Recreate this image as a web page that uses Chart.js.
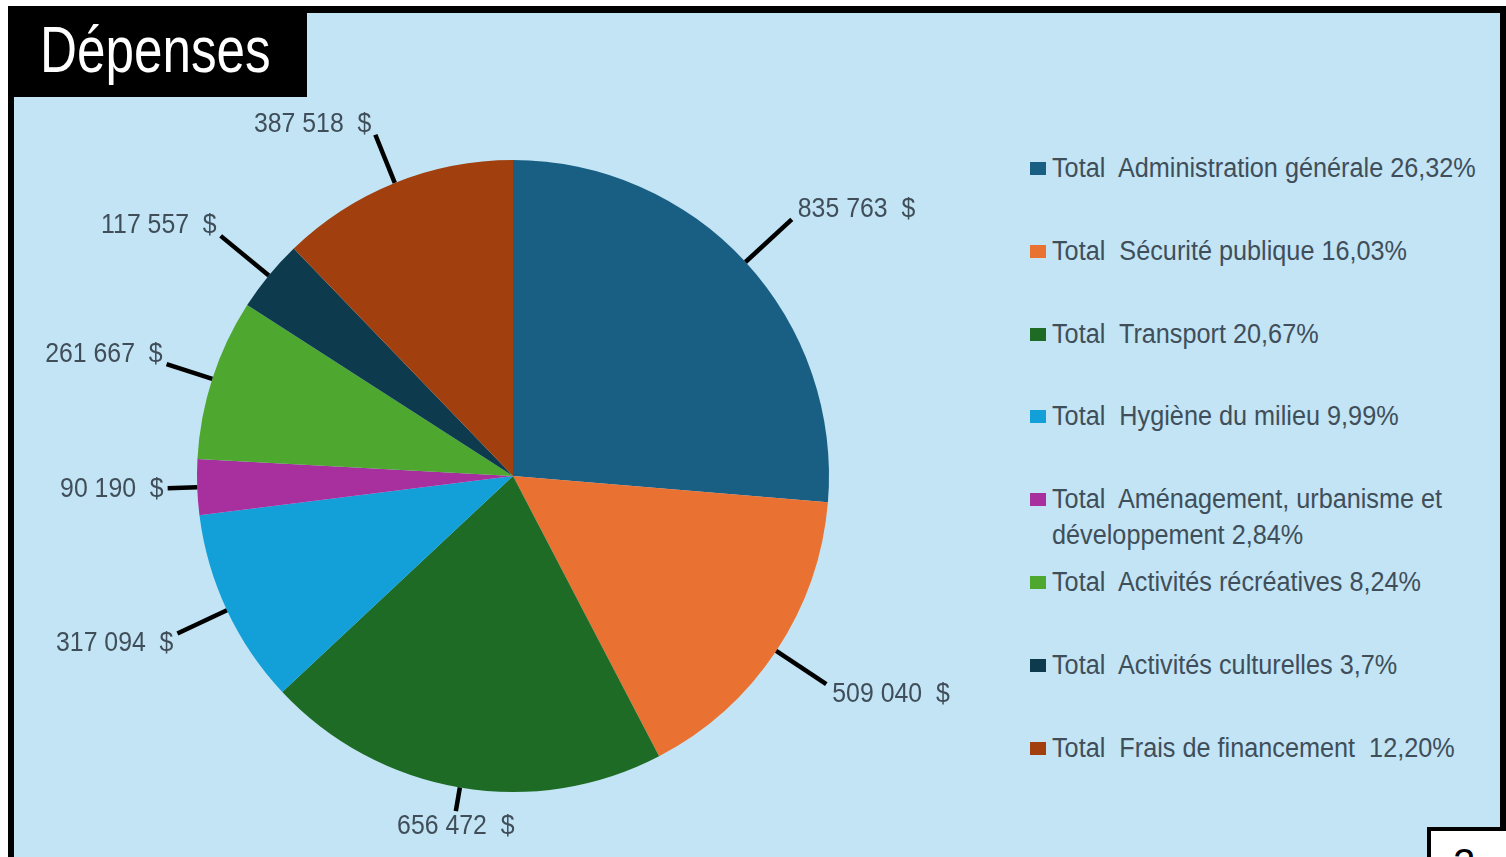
<!DOCTYPE html>
<html lang="fr">
<head>
<meta charset="UTF-8">
<title>Dépenses</title>
<script src="https://cdn.jsdelivr.net/npm/chart.js"></script>
<style>
    body { margin: 0; width: 1506px; height: 857px; overflow: hidden; position: relative; background: #fff; font-family: "Liberation Sans", Arial, sans-serif; }
    .cadre { position: absolute; left: 8px; top: 6px; width: 1498px; height: 900px; box-sizing: border-box; border: 6px solid #000; border-top-width: 7px; background: #c2e4f4; }
    .titre { position: absolute; left: 8px; top: 6px; width: 299px; height: 91px; background: #000; z-index: 2; }
    .titre span { position: absolute; left: 32px; top: 12px; font-size: 64px; line-height: 64px; color: #fff; white-space: nowrap; transform: scaleX(0.8); transform-origin: left top; }
    .graphique { position: absolute; left: 0; top: 0; width: 1020px; height: 857px; z-index: 1; }
    .legende { position: absolute; left: 1030px; top: 150px; width: 470px; z-index: 1; }
    .item { position: relative; height: 82.8px; }
    .carre { position: absolute; left: 0; top: 12px; width: 16px; height: 13px; }
    .texte { position: absolute; left: 22px; top: 0; width: 470px; font-size: 27px; line-height: 36px; color: #404e5a; white-space: pre-wrap; transform: scaleX(0.935); transform-origin: left top; }
    .page { position: absolute; left: 1427px; top: 827px; width: 90px; height: 60px; box-sizing: border-box; border: 4px solid #000; background: #fff; z-index: 3; }
    .page span { position: absolute; left: 22px; top: 12px; font-size: 40px; line-height: 40px; color: #000; }
</style>
</head>
<body>
    <div class="cadre"></div>
    <div class="titre"><span>Dépenses</span></div>
    <div class="graphique"><canvas id="chartDepenses"></canvas></div>
    <div class="legende" id="legende"></div>
    <div class="page"><span>2</span></div>

    <script>
        // Données
        var categories = ['Administration générale', 'Sécurité publique', 'Transport', 'Hygiène du milieu',
            'Aménagement, urbanisme et développement', 'Activités récréatives', 'Activités culturelles', 'Frais de financement '];
        var montants = [835763, 509040, 656472, 317094, 90190, 261667, 117557, 387518];
        var pourcentages = ['26,32%', '16,03%', '20,67%', '9,99%', '2,84%', '8,24%', '3,7%', '12,20%'];
        var couleurs = ['#195e83', '#e97132', '#1d6b24', '#139fd8', '#a8309e', '#4ea72e', '#0e3a4e', '#a13f0e'];

        function formatMontant(n) {
            return n.toString().replace(/\B(?=(\d{3})+(?!\d))/g, ' ') + '  $';
        }

        // Légende à droite
        var legende = document.getElementById('legende');
        categories.forEach(function(nom, i) {
            var item = document.createElement('div');
            item.className = 'item';
            item.innerHTML = '<div class="carre" style="background:' + couleurs[i] + '"></div>' +
                '<div class="texte">Total  ' + nom + ' ' + pourcentages[i] + '</div>';
            legende.appendChild(item);
        });

        // Étiquettes avec lignes de rappel
        var etiquettes = {
            id: 'etiquettes',
            afterDatasetsDraw: function(chart) {
                var ctx = chart.ctx;
                var meta = chart.getDatasetMeta(0);
                ctx.save();
                meta.data.forEach(function(arc, i) {
                    var p = arc.getProps(['x', 'y', 'startAngle', 'endAngle', 'outerRadius'], true);
                    var mid = (p.startAngle + p.endAngle) / 2;
                    var cos = Math.cos(mid), sin = Math.sin(mid);
                    var enBas = sin > 0.9;
                    // lignes plus longues en diagonale, plus courtes sur les axes
                    var longueur = enBas ? 24 : 27 + 36 * Math.abs(Math.sin(2 * mid));
                    var x0 = p.x + cos * p.outerRadius, y0 = p.y + sin * p.outerRadius;
                    var x1 = p.x + cos * (p.outerRadius + longueur), y1 = p.y + sin * (p.outerRadius + longueur);
                    ctx.strokeStyle = '#000';
                    ctx.lineWidth = 4.5;
                    ctx.beginPath();
                    ctx.moveTo(x0, y0);
                    ctx.lineTo(x1, y1);
                    ctx.stroke();

                    var tx, ty, align;
                    if (enBas) { align = 'center'; tx = x1; ty = y1 + 15; }
                    else {
                        ty = y1 + 10 * Math.sign(sin) * Math.min(1, Math.abs(sin) * 3);
                        if (cos >= 0) { align = 'left'; tx = x1 + 6; }
                        else { align = 'right'; tx = x1 - 4; }
                    }
                    ctx.save();
                    ctx.translate(tx, ty);
                    ctx.scale(0.92, 1);
                    ctx.font = '27px "Liberation Sans", Arial, sans-serif';
                    ctx.fillStyle = '#404e5a';
                    ctx.textAlign = align;
                    ctx.textBaseline = 'middle';
                    ctx.fillText(formatMontant(montants[i]), 0, 0);
                    ctx.restore();
                });
                ctx.restore();
            }
        };

        var ctxDep = document.getElementById('chartDepenses').getContext('2d');
        var chartDepenses = new Chart(ctxDep, {
            type: 'pie',
            data: {
                labels: categories,
                datasets: [{
                    data: montants,
                    backgroundColor: couleurs,
                    borderWidth: 0
                }]
            },
            options: {
                responsive: true,
                maintainAspectRatio: false,
                animation: false,
                layout: { padding: { left: 197, right: 191, top: 160, bottom: 65 } },
                plugins: {
                    legend: { display: false },
                    tooltip: { enabled: false }
                }
            },
            plugins: [etiquettes]
        });
    </script>
</body>
</html>
